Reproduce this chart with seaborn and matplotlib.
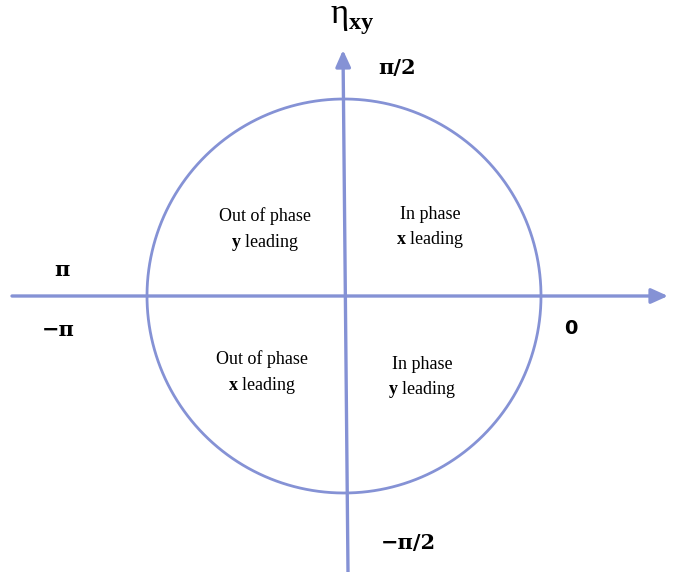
import numpy as np
import pandas as pd
import seaborn as sns
import matplotlib.pyplot as plt

# diagram geometry (pixel-like units, y pointing down)
center = (344, 296)
radius = 197
h_axis = [(12, 296), (668, 296)]
v_axis = [(348, 572), (343, 50)]

quad_text = ["Out of phase\n$\\mathbf{y}$ leading", "In phase\n$\\mathbf{x}$ leading",
             "Out of phase\n$\\mathbf{x}$ leading", "In phase\n$\\mathbf{y}$ leading"]
quad_pos = [(265, 230), (430, 228), (262, 373), (422, 378)]

angle_text = ["π/2", "π", "−π", "−π/2"]
angle_pos = [(397, 68), (62, 270), (58, 330), (408, 543)]

line_col = "#8592d5"

sns.set_style("white")
plt.rcParams["font.family"] = ["Liberation Serif", "DejaVu Serif"]
plt.rcParams["text.color"] = "black"
plt.rcParams["mathtext.fontset"] = "custom"
plt.rcParams["mathtext.rm"] = "Liberation Serif"
plt.rcParams["mathtext.bf"] = "Liberation Serif:bold"

fig = plt.figure(figsize=(6.78, 5.72), dpi=100)
ax = fig.add_axes([0, 0, 1, 1])

theta = np.linspace(0, 2 * np.pi, 400)
circ = pd.DataFrame({"x": center[0] + radius * np.cos(theta),
                     "y": center[1] + radius * np.sin(theta)})
sns.lineplot(data=circ, x="x", y="y", sort=False, estimator=None,
             color=line_col, lw=2, ax=ax)

for (x0, y0), (x1, y1) in [h_axis, v_axis]:
    ax.annotate("", xy=(x1, y1), xytext=(x0, y0),
                arrowprops=dict(arrowstyle="-|>,head_length=1.0,head_width=0.45",
                                color=line_col, lw=2.4, shrinkA=0, shrinkB=0))

for t, (x, y) in zip(quad_text, quad_pos):
    ax.text(x, y, t, ha="center", va="center", fontsize=13, linespacing=1.45)

for t, (x, y) in zip(angle_text, angle_pos):
    ax.text(x, y, t, ha="center", va="center", fontsize=15, fontweight="bold",
            family="DejaVu Serif")
ax.text(571, 328, "0", ha="center", va="center", fontsize=14, fontweight="bold",
        family="DejaVu Sans")

ax.text(352, 20, "η$_{\\mathbf{xy}}$", ha="center", va="center", fontsize=25)

ax.set_xlim(0, 678)
ax.set_ylim(572, 0)
ax.set_axis_off()
fig.savefig("out.png", dpi=100)
